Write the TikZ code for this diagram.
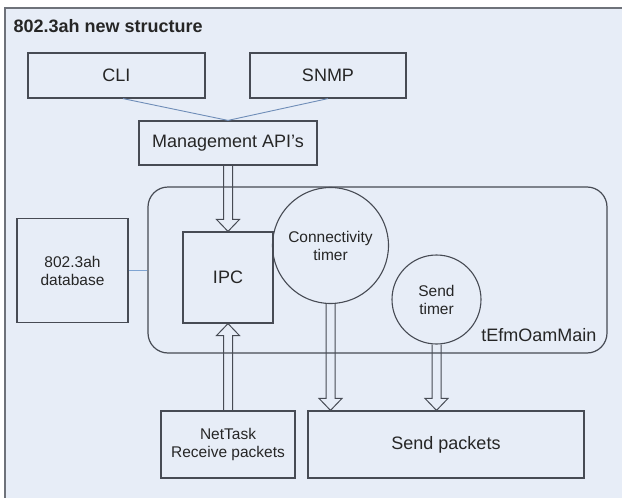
\documentclass[tikz,border=0pt]{standalone}
\usepackage{fontspec}
\setmainfont{Liberation Sans}
\usetikzlibrary{calc}
\definecolor{bgblue}{HTML}{E7EDF7}
\definecolor{framegray}{HTML}{6E727A}
\definecolor{boxgray}{HTML}{474B54}
\definecolor{txtgray}{HTML}{262626}
\definecolor{linkblue}{HTML}{6F8DB8}
\definecolor{dbblue}{HTML}{7FA4D2}
\tikzset{
  bigtext/.style={font=\fontsize{18}{18}\selectfont, text=txtgray},
  smalltext/.style={font=\fontsize{15.5}{18}\selectfont, text=txtgray, align=center},
  box/.style={draw=boxgray, line width=1.2pt, rectangle, inner sep=0pt},
  circ/.style={draw=boxgray, line width=1.1pt, circle, inner sep=0pt},
  mainbox/.style={draw=boxgray, line width=1.2pt, rectangle, rounded corners=20pt, inner sep=0pt},
  link/.style={draw=linkblue, line width=0.9pt},
  dblink/.style={draw=dbblue, line width=1pt},
  blockarrow/.style={draw=boxgray, line width=1pt, line join=miter, fill=none},
}
\newcommand\blockdown[2]{%
  \draw[blockarrow] let \p1=(#1), \p2=(#2) in
    (\x1-4.5pt,\y1) -- (\x1-4.5pt,\y2+12pt) -- (\x1-11.5pt,\y2+12pt) -- (\x1,\y2)
    -- (\x1+11.5pt,\y2+12pt) -- (\x1+4.5pt,\y2+12pt) -- (\x1+4.5pt,\y1);}
\newcommand\blockup[2]{%
  \draw[blockarrow] let \p1=(#1), \p2=(#2) in
    (\x1-4.5pt,\y1) -- (\x1-4.5pt,\y2-12pt) -- (\x1-11.5pt,\y2-12pt) -- (\x1,\y2)
    -- (\x1+11.5pt,\y2-12pt) -- (\x1+4.5pt,\y2-12pt) -- (\x1+4.5pt,\y1);}
\begin{document}
\begin{tikzpicture}[x=1pt,y=-1pt]
\useasboundingbox (0,0) rectangle (622,498);
\fill[white] (0,0) rectangle (622,498);
\fill[bgblue] (5,8) rectangle (640,520);
\draw[framegray, line width=2pt] (5,520) -- (5,8) -- (640,8);

\node[bigtext, font=\fontsize{18}{18}\selectfont\bfseries, anchor=west] (title) at (10,26) {802.3ah new structure};

\node[box, bigtext, minimum width=177pt, minimum height=45pt] (cli) at (116.5,75.5) {CLI};
\node[box, bigtext, minimum width=156pt, minimum height=45pt] (snmp) at (328,75.5) {SNMP};
\node[box, bigtext, minimum width=178pt, minimum height=44pt] (mgmt) at (228,143) {Management API's};

\draw[link] ($(cli.south)+(6.5,0)$) -- (mgmt.north);
\draw[link] (snmp.south) -- (mgmt.north);

\node[mainbox, minimum width=459pt, minimum height=166pt] (main) at (377.5,270) {};
\node[bigtext, anchor=east] (mainlabel) at (600,335) {tEfmOamMain};

\node[box, smalltext, minimum width=111pt, minimum height=104pt] (db) at (72.5,270.5) {802.3ah\\database};
\draw[dblink] (db.east) -- (db.east -| main.west);

\node[box, bigtext, minimum width=90pt, minimum height=91pt] (ipc) at (228,277.5) {IPC};
\node[circ, smalltext, minimum size=116pt] (conn) at (330.5,245.5) {Connectivity\\timer};
\node[circ, smalltext, minimum size=89pt] (stimer) at (436.5,299.5) {Send\\timer};

\node[box, smalltext, minimum width=134pt, minimum height=67pt] (net) at (228,444.5) {NetTask\\Receive packets};
\node[box, bigtext, minimum width=276pt, minimum height=67pt] (sendpk) at (446,444.5) {Send packets};

\blockdown{mgmt.south}{ipc.north}
\blockup{net.north}{ipc.south}
\coordinate (connin) at (sendpk.north -| conn.south);
\coordinate (stin) at (sendpk.north -| stimer.south);
\blockdown{conn.south}{connin}
\blockdown{stimer.south}{stin}
\end{tikzpicture}
\end{document}
